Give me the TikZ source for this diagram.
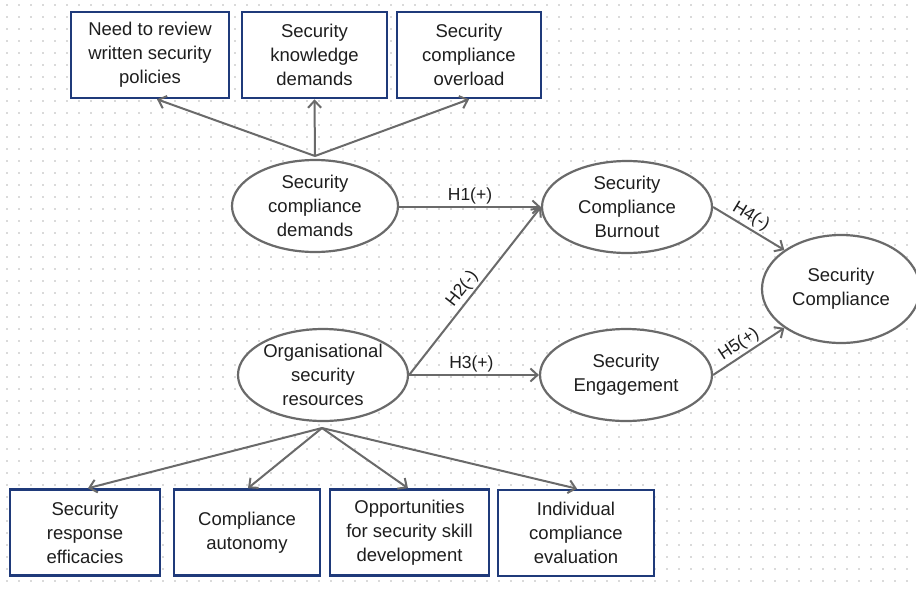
\documentclass[tikz,border=0pt]{standalone}
\usepackage{fontspec}
\setmainfont{Liberation Sans}
\usetikzlibrary{arrows.meta,shapes.geometric}
\definecolor{boxblue}{HTML}{1F3A7A}
\definecolor{linegray}{HTML}{6A6A6A}
\definecolor{txt}{HTML}{1E1E1E}
\definecolor{dotgray}{HTML}{DADADA}
\tikzset{
  rbox/.style={draw=boxblue,line width=2.6pt,fill=white,minimum width=#1,minimum height=86pt,align=center,inner sep=0pt,text=txt,font=\fontsize{18.5}{24}\selectfont},
  rbox/.default=150pt,
  ell/.style={ellipse,draw=linegray,line width=2.2pt,fill=white,align=center,inner sep=0pt,text=txt,font=\fontsize{18.5}{24}\selectfont},
  conn/.style={draw=linegray,line width=2pt,-{Straight Barb[length=7pt,width=13pt,line width=2pt]}},
  hlab/.style={font=\fontsize{17.5}{20}\selectfont,text=txt,inner sep=2pt},
}
\begin{document}
\begin{tikzpicture}[x=1pt,y=-1pt]
\useasboundingbox (0,0) rectangle (916,590);
\fill[white] (0,0) rectangle (916,590);
\foreach \i in {0,...,76}{
  \foreach \j in {0,...,49}{
    \fill[dotgray] ({7+12*\i-0.6},{5+12*\j-0.6}) rectangle ++(1.2,1.2);
  }
}
% top boxes
\node[rbox=158pt] (b1) at (150,55) {Need to review\\written security\\policies};
\node[rbox=145pt] (b2) at (314.5,55) {Security\\knowledge\\demands};
\node[rbox=144pt] (b3) at (469,55) {Security\\compliance\\overload};
% bottom boxes
\node[rbox=150pt] (c1) at (85,532.5) {Security\\response\\efficacies};
\node[rbox=146pt] (c2) at (247,532.5) {Compliance\\autonomy};
\node[rbox=159pt] (c3) at (409.5,532.5) {Opportunities\\for security skill\\development};
\node[rbox=156pt] (c4) at (576,533) {Individual\\compliance\\evaluation};
% ellipses
\node[ell,minimum width=166pt,minimum height=92pt] (dem) at (315,206) {Security\\compliance\\demands};
\node[ell,minimum width=170pt,minimum height=92pt] (res) at (323,375) {Organisational\\security\\resources};
\node[ell,minimum width=170pt,minimum height=92pt] (bur) at (627,207) {Security\\Compliance\\Burnout};
\node[ell,minimum width=172pt,minimum height=92pt] (eng) at (626,375) {Security\\Engagement};
\node[ell,minimum width=158pt,minimum height=108pt] (sc) at (841,289) {Security\\Compliance};
% coordinates
\coordinate (dtop) at (315,156);
\coordinate (rbot) at (322,428);
% top arrows
\draw[conn] (dtop) -- (b1.south -| 157,0);
\draw[conn] (dtop) -- (b2.south);
\draw[conn] (dtop) -- (b3.south);
% bottom arrows
\draw[conn] (rbot) -- (c1.north -| 88,0);
\draw[conn] (rbot) -- (c2.north -| 248,0);
\draw[conn] (rbot) -- (c3.north -| 408,0);
\draw[conn] (rbot) -- (c4.north -| 577,0);
% hypotheses
\draw[conn] (dem.east |- bur.west) -- node[hlab,above,pos=0.5] {H1(+)} (bur.west);
\draw[conn] (res.east) -- node[hlab,above,sloped,pos=0.47] {H2(-)} (bur.west);
\draw[conn] (res.east) -- node[hlab,above,pos=0.48] {H3(+)} (eng.west);
\draw[conn] (bur.east) -- node[hlab,above,sloped,pos=0.45] {H4(-)} (sc.north west);
\draw[conn] (eng.east) -- node[hlab,above,sloped,pos=0.45] {H5(+)} (sc.south west);
\end{tikzpicture}
\end{document}
